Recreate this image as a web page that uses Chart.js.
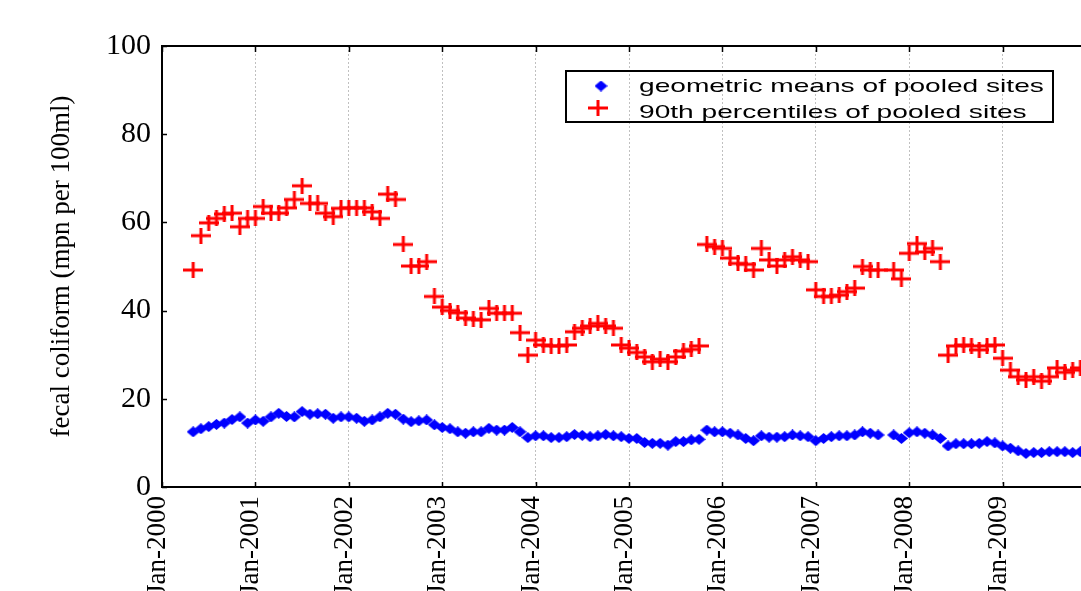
<!DOCTYPE html>
<html>
<head>
<meta charset="utf-8">
<script src="https://cdn.jsdelivr.net/npm/chart.js@4.4.1/dist/chart.umd.min.js"></script>
<style>
  html, body { margin: 0; padding: 0; background: #fff; overflow: hidden; }
  #wrap { width: 1081px; height: 591px; overflow: hidden; position: relative; }
  canvas { display: block; }
</style>
</head>
<body>
<div id="wrap"><canvas id="c" width="1140" height="591"></canvas></div>
<script>
// ---- Data (monthly, May 2000 .. Nov 2009; null = no sample) ----
const firstMonth = '2000-05';
const geoMeans = [
  12.5, 13.2, 13.7, 14.2, 14.5, 15.3, 15.9, 14.5,            // 2000 May-Dec
  15.2, 14.9, 15.9, 16.7, 16.0, 15.9, 17.1, 16.5, 16.6, 16.5, 15.6, 15.9, // 2001
  15.9, 15.6, 14.9, 15.2, 15.9, 16.7, 16.5, 15.4, 14.8, 15.0, 15.2, 14.1, // 2002
  13.5, 13.2, 12.5, 12.2, 12.5, 12.5, 13.3, 12.9, 12.9, 13.5, 12.5, 11.2, // 2003
  11.6, 11.6, 11.2, 11.2, 11.4, 11.9, 11.7, 11.4, 11.6, 11.9, 11.6, 11.4, // 2004
  11.0, 11.0, 10.1, 9.9, 9.9, 9.5, 10.3, 10.3, 10.7, 10.8, 12.9, 12.5,   // 2005
  12.5, 12.2, 11.8, 11.0, 10.5, 11.6, 11.3, 11.3, 11.4, 11.8, 11.6, 11.4, // 2006
  10.5, 11.0, 11.4, 11.6, 11.6, 11.8, 12.5, 12.2, 11.8, null, 11.8, 11.0, // 2007
  12.3, 12.5, 12.2, 11.8, 11.0, 9.3, 9.8, 9.8, 9.8, 9.9, 10.3, 10.0,     // 2008
  9.3, 8.8, 8.2, 7.6, 7.8, 7.8, 8.0, 8.0, 8.0, 7.8, 8.0                  // 2009 Jan-Nov
];
const pct90 = [
  49.2, 57.0, 59.9, 60.9, 61.9, 62.1, 59.0, 60.9,            // 2000 May-Dec
  60.9, 63.6, 62.1, 62.1, 63.3, 65.2, 68.3, 64.3, 64.3, 62.1, 61.3, 63.2, // 2001
  63.3, 63.3, 63.3, 62.4, 60.9, 66.4, 65.2, 55.0, 50.1, 50.1, 51.1, 43.2, // 2002
  40.8, 40.0, 39.5, 38.3, 38.0, 37.9, 40.5, 39.4, 39.4, 39.4, 35.0, 29.9, // 2003
  33.3, 32.2, 32.0, 32.0, 32.2, 35.2, 36.0, 36.5, 37.1, 36.5, 36.0, 32.2, // 2004
  31.5, 30.5, 29.5, 28.4, 29.0, 28.4, 29.5, 30.8, 31.2, 32.0, 55.0, 54.5, // 2005
  54.1, 51.9, 50.7, 50.5, 49.2, 54.1, 51.5, 50.1, 51.5, 52.2, 51.5, 51.1, // 2006
  44.7, 43.2, 43.2, 43.5, 44.3, 45.1, 50.0, 49.2, 49.2, null, 49.2, 47.2, // 2007
  53.0, 55.2, 53.3, 54.1, 51.1, 29.9, 32.0, 32.2, 32.0, 31.1, 32.0, 32.2, // 2008
  29.2, 26.5, 25.0, 24.3, 25.0, 24.0, 25.0, 27.0, 26.0, 26.5, 27.0       // 2009 Jan-Nov
];
const seriesNames = ['geometric means of pooled sites', '90th percentiles of pooled sites'];
const yTitle = 'fecal coliform (mpn per 100ml)';
const yTicks = [0, 20, 40, 60, 80, 100];
const xTickYears = [2000, 2001, 2002, 2003, 2004, 2005, 2006, 2007, 2008, 2009, 2010];

// month index (months since Jan-2000) for each sample
const [fy, fm] = firstMonth.split('-').map(Number);
const startIdx = (fy - 2000) * 12 + (fm - 1);
const toPoints = arr => arr.map((v, i) => ({ x: startIdx + i, y: v }));

// ---- marker images ----
function makeDiamond() {
  const c = document.createElement('canvas'); c.width = 13; c.height = 11;
  const g = c.getContext('2d'); g.fillStyle = '#0000ff';
  g.beginPath(); g.moveTo(6.5, 0); g.lineTo(13, 5.5); g.lineTo(6.5, 11); g.lineTo(0, 5.5); g.closePath(); g.fill();
  return c;
}
function makeCross() {
  const c = document.createElement('canvas'); c.width = 20; c.height = 16;
  const g = c.getContext('2d'); g.fillStyle = '#ff0000';
  g.fillRect(0, 6.5, 20, 3); g.fillRect(8.5, 0, 3, 16);
  return c;
}
const diamond = makeDiamond();
const cross = makeCross();

const frameAndLegend = {
  id: 'frameAndLegend',
  afterDraw(chart) {
    const { ctx, chartArea: a, scales: { x, y } } = chart;
    ctx.save();
    ctx.strokeStyle = '#000';
    ctx.lineWidth = 2;
    // top frame line
    ctx.beginPath(); ctx.moveTo(a.left - 1, a.top); ctx.lineTo(a.right, a.top); ctx.stroke();
    // inner tick marks
    ctx.lineWidth = 1.5;
    x.ticks.forEach(t => {
      const px = Math.round(x.getPixelForValue(t.value)) + 0.5;
      ctx.beginPath(); ctx.moveTo(px, a.top); ctx.lineTo(px, a.top + 6); ctx.stroke();
      ctx.beginPath(); ctx.moveTo(px, a.bottom); ctx.lineTo(px, a.bottom - 5); ctx.stroke();
    });
    y.ticks.forEach(t => {
      const py = Math.round(y.getPixelForValue(t.value)) + 0.5;
      ctx.beginPath(); ctx.moveTo(a.left, py); ctx.lineTo(a.left + 5, py); ctx.stroke();
    });
    // legend
    ctx.lineWidth = 2;
    ctx.strokeRect(566, 71, 487, 51);
    ctx.drawImage(diamond, 601 - 6.5, 86 - 5.5);
    ctx.drawImage(cross, 598 - 10, 108 - 8);
    ctx.fillStyle = '#000';
    ctx.font = '19px "Liberation Sans", Arial, sans-serif';
    ctx.textBaseline = 'alphabetic';
    ctx.textAlign = 'left';
    [[seriesNames[0], 92], [seriesNames[1], 118]].forEach(([txt, by]) => {
      ctx.save(); ctx.translate(639, by); ctx.scale(1.48, 1); ctx.fillText(txt, 0, 0); ctx.restore();
    });
    ctx.restore();
  }
};

const serif = '"Liberation Serif", "Times New Roman", serif';

new Chart(document.getElementById('c'), {
  type: 'scatter',
  data: {
    datasets: [
      { label: seriesNames[0], data: toPoints(geoMeans), pointStyle: diamond, pointRadius: 6, pointHoverRadius: 6 },
      { label: seriesNames[1], data: toPoints(pct90), pointStyle: cross, pointRadius: 9, pointHoverRadius: 9 }
    ]
  },
  options: {
    responsive: false,
    animation: false,
    events: [],
    layout: { padding: { top: 46, right: 44, left: 0, bottom: 0 } },
    plugins: { legend: { display: false }, tooltip: { enabled: false } },
    scales: {
      x: {
        type: 'linear',
        min: 0, max: 120,
        afterBuildTicks: s => { s.ticks = xTickYears.map(yr => ({ value: (yr - 2000) * 12 })); },
        afterFit: s => { s.height = 104; },
        ticks: {
          callback: v => 'Jan-' + (2000 + v / 12),
          minRotation: 90, maxRotation: 90,
          color: '#000', padding: 9, labelOffset: -4,
          font: { family: serif, size: 27 }
        },
        grid: { color: '#c0c0c0', lineWidth: 1, drawTicks: false },
        border: { display: true, color: '#000', width: 2, dash: [2, 2] }
      },
      y: {
        min: 0, max: 100,
        afterBuildTicks: s => { s.ticks = yTicks.map(v => ({ value: v })); },
        afterFit: s => { s.width = 162; },
        ticks: { color: '#000', padding: 11, font: { family: serif, size: 30 } },
        grid: { drawOnChartArea: false, drawTicks: false },
        border: { display: true, color: '#000', width: 2 },
        title: {
          display: true, text: yTitle, color: '#000',
          font: { family: serif, size: 27 },
          padding: { top: 46, bottom: 0 }
        }
      }
    }
  },
  plugins: [frameAndLegend]
});
</script>
</body>
</html>
